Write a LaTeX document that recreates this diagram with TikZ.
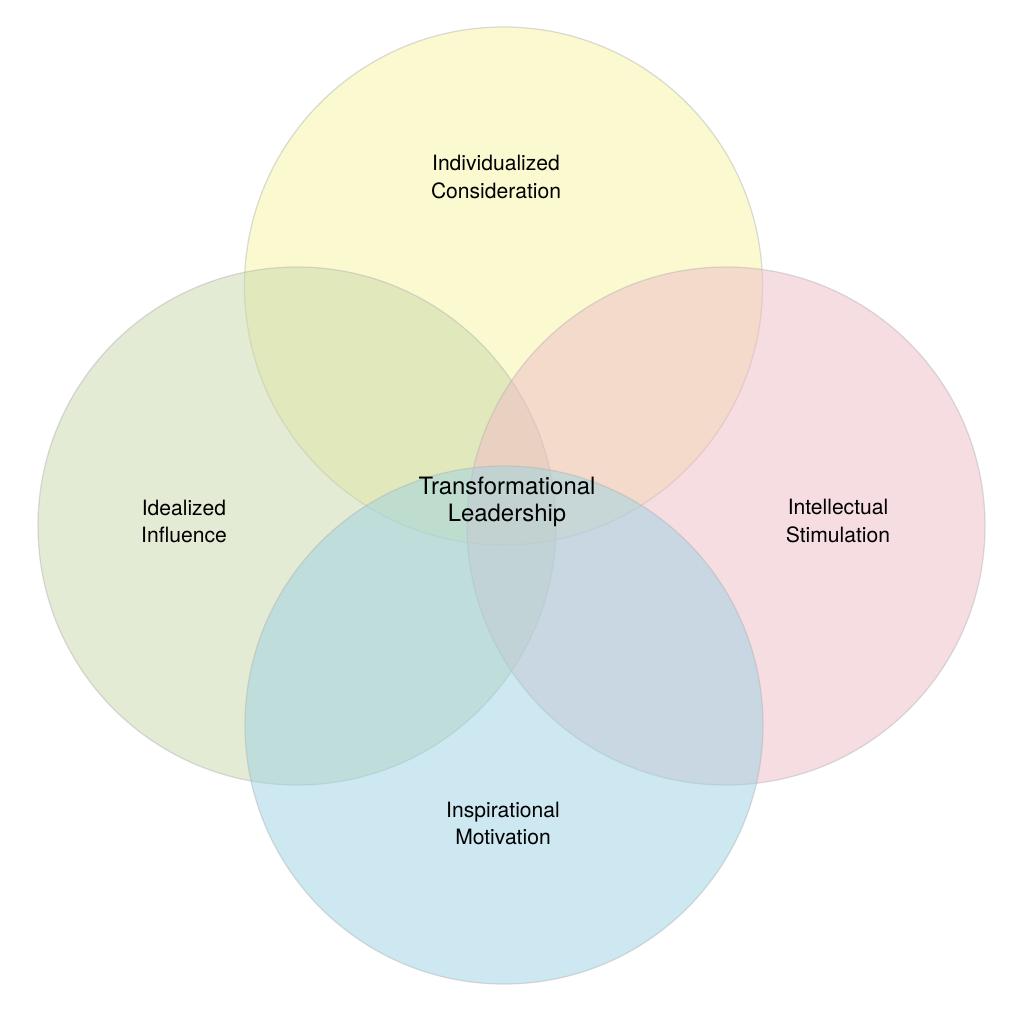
\documentclass[tikz,border=0pt]{standalone}
\usepackage{fontspec}
\setmainfont{TeX Gyre Heros}
\usepackage{tikz}
\definecolor{topyellow}{HTML}{F9F4A2}
\definecolor{leftgreen}{HTML}{C9D8AA}
\definecolor{rightpink}{HTML}{EFBCC6}
\definecolor{bottomblue}{HTML}{9CD3E2}
\tikzstyle{petal} = [draw=black!30, draw opacity=0.45, line width=0.7pt, fill opacity=0.5]
\tikzstyle{petallabel} = [align=center, font=\fontsize{12}{15.4}\selectfont, text=black]
\tikzstyle{corelabel} = [align=center, font=\fontsize{13.6}{15.4}\selectfont, text=black]

\begin{document}
\begin{tikzpicture}[x=0.02cm, y=-0.02cm]

\useasboundingbox (0,0) rectangle (1024,1013);

\fill[white] (0,0) rectangle (1024,1013);

\draw[petal, fill=topyellow] (503.5,286) circle [radius=259];
\draw[petal, fill=leftgreen] (297,526) circle [radius=259];
\draw[petal, fill=rightpink] (726,526) circle [radius=259];
\draw[petal, fill=bottomblue] (504,725) circle [radius=259];

\node[petallabel] (ic) at (496,177) {Individualized\\Consideration};
\node[petallabel] (ii) at (184,521) {Idealized\\Influence};
\node[petallabel] (is) at (838,521) {Intellectual\\Stimulation};
\node[petallabel] (im) at (503,823) {Inspirational\\Motivation};
\node[corelabel] (tl) at (507,502) {Transformational\\Leadership};

\end{tikzpicture}
\end{document}
